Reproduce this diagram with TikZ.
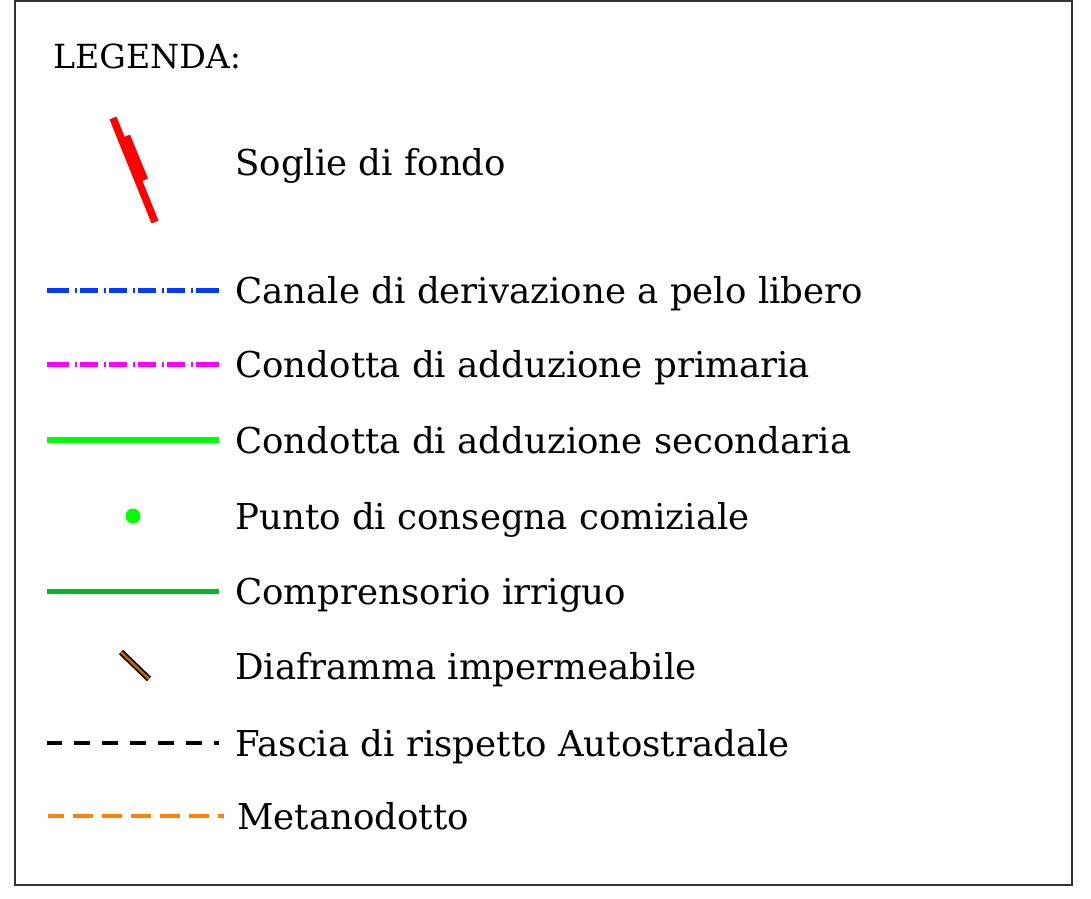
\documentclass[tikz,border=0pt]{standalone}
\usepackage{fontspec}
\setmainfont{DejaVu Serif}
\definecolor{lblue}{RGB}{0,60,255}
\definecolor{lmag}{RGB}{255,0,255}
\definecolor{lgreen}{RGB}{0,255,0}
\definecolor{dgreen}{RGB}{0,185,40}
\definecolor{lbrown}{RGB}{200,100,0}
\definecolor{lorange}{RGB}{255,130,0}
\tikzset{
  lbl/.style={anchor=base west, inner sep=0pt, font=\fontsize{35.6}{40}\selectfont},
  dashdotline/.style={line width=5pt, dash pattern=on 1.5pt off 3pt on 18.5pt off 6pt, dash phase=23pt},
  solidend/.style={line width=5pt},
  blackdash/.style={line width=3.5pt, dash pattern=on 16pt off 12pt, dash phase=1pt},
  orangedash/.style={line width=3.5pt, dash pattern=on 20pt off 9pt, dash phase=4pt}
}
\begin{document}
\begin{tikzpicture}[x=1pt,y=-1pt]
\useasboundingbox (0,0) rectangle (1091,898);
\draw[line width=1.5pt, black!80] (15,1) rectangle (1072,885);
\node[lbl, font=\fontsize{33.2}{38}\selectfont] (title) at (53,68) {LEGENDA:};
% Soglie
\coordinate (s1) at (113,118); \coordinate (s2) at (155,222);
\coordinate (t1) at (124,137); \coordinate (t2) at (142,181);
\draw[red, line width=7.5pt] (s1) -- (s2);
\draw[red, line width=13pt] (t1) -- (t2);
\node[lbl] (soglie) at (235,175) {Soglie di fondo};
% Canale
\coordinate (a1) at (47,290); \coordinate (a2) at (219,290);
\coordinate (am1) at (69,290); \coordinate (am2) at (198,290);
\draw[lblue, solidend] (a1) -- (am1);
\draw[lblue, dashdotline] (am1) -- (am2);
\draw[lblue, solidend] (am2) -- (a2);
\node[lbl] (canale) at (235,303) {Canale di derivazione a pelo libero};
% Primaria
\coordinate (b1) at (47,364); \coordinate (b2) at (219,364);
\coordinate (bm1) at (69,364); \coordinate (bm2) at (198,364);
\draw[lmag, solidend] (b1) -- (bm1);
\draw[lmag, dashdotline] (bm1) -- (bm2);
\draw[lmag, solidend] (bm2) -- (b2);
\node[lbl] (prim) at (235,377) {Condotta di adduzione primaria};
% Secondaria
\coordinate (c1) at (47,440); \coordinate (c2) at (219,440);
\draw[lgreen, line width=5.5pt] (c1) -- (c2);
\node[lbl] (sec) at (235,453) {Condotta di adduzione secondaria};
% Punto
\fill[lgreen] (133,516) circle (7.5pt);
\node[lbl] (punto) at (235,529) {Punto di consegna comiziale};
% Comprensorio
\coordinate (d1) at (47,591); \coordinate (d2) at (219,591);
\draw[dgreen, line width=5pt] (d1) -- (d2);
\node[lbl] (compr) at (235,604) {Comprensorio irriguo};
% Diaframma
\coordinate (e1) at (121,652); \coordinate (e2) at (149,679);
\draw[black, line width=6pt] (e1) -- (e2);
\draw[lbrown, line width=2.5pt] (e1) -- (e2);
\node[lbl] (diaf) at (235,679) {Diaframma impermeabile};
% Fascia
\coordinate (f1) at (47,743); \coordinate (f2) at (219,743);
\draw[black, blackdash] (f1) -- (f2);
\node[lbl] (fascia) at (235,756) {Fascia di rispetto Autostradale};
% Metanodotto
\coordinate (g1) at (48,816); \coordinate (g2) at (224,816);
\draw[lorange, orangedash] (g1) -- (g2);
\node[lbl] (meta) at (237,829) {Metanodotto};
\end{tikzpicture}
\end{document}
